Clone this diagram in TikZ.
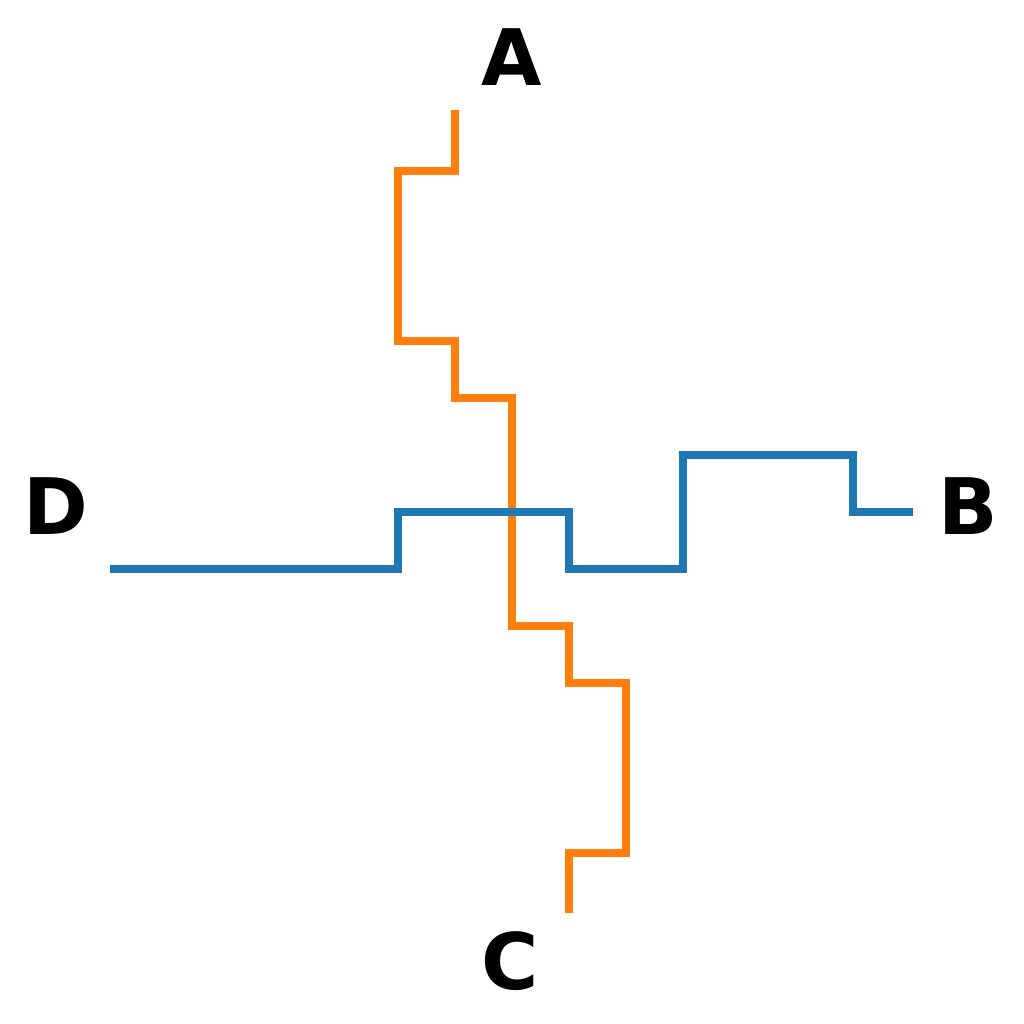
\documentclass[tikz,border=0pt]{standalone}
\usepackage{fontspec}
\setmainfont{DejaVu Sans}
\definecolor{tabblue}{HTML}{1F77B4}
\definecolor{taborange}{HTML}{FF7F0E}
\begin{document}
\begin{tikzpicture}[x=1pt,y=-1pt,
  wire/.style={line width=7.5pt,line join=miter},
  lbl/.style={font=\bfseries\fontsize{78}{78}\selectfont,anchor=base,inner sep=0pt}]
\useasboundingbox (0,0) rectangle (1024,1024);
\node[lbl] (A) at (512,86) {A};
\node[lbl] (B) at (968,534) {B};
\node[lbl] (C) at (510,989) {C};
\node[lbl] (D) at (56,534) {D};
\coordinate (a0) at (455,110);
\coordinate (c0) at (569,913);
\coordinate (d0) at (110,569);
\coordinate (b0) at (913,512);
\draw[wire,taborange] (a0) |- (398,171) |- (455,341) |- (512,398) |- (569,626) |- (626,683) |- (569,853) -- (c0);
\draw[wire,tabblue] (d0) -| (398,512) -| (569,569) -| (683,455) -| (853,512) -- (b0);
\end{tikzpicture}
\end{document}
